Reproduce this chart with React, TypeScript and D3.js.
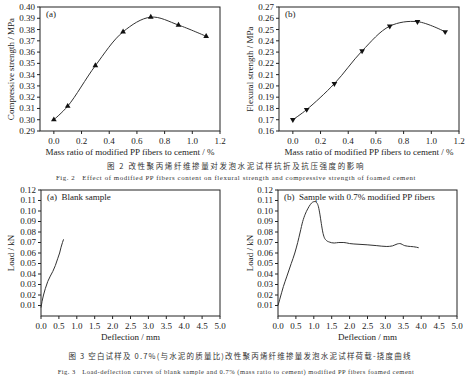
import React from "react";
import * as d3 from "d3";

const ratio = [0.0, 0.1, 0.3, 0.5, 0.7, 0.9, 1.1];
const compressive = [0.300, 0.312, 0.348, 0.378, 0.391, 0.384, 0.374];
const flexural = [0.170, 0.179, 0.202, 0.231, 0.253, 0.257, 0.248];
const ratioTicks = [0.0, 0.2, 0.4, 0.6, 0.8, 1.0, 1.2];
const compTicks = [0.29, 0.30, 0.31, 0.32, 0.33, 0.34, 0.35, 0.36, 0.37, 0.38, 0.39, 0.40];
const flexTicks = [0.16, 0.17, 0.18, 0.19, 0.20, 0.21, 0.22, 0.23, 0.24, 0.25, 0.26, 0.27];

const blankDef = [0.0, 0.03, 0.07, 0.12, 0.19, 0.26, 0.33, 0.40, 0.47, 0.52, 0.56, 0.60, 0.63];
const blankLoad = [0.008, 0.014, 0.020, 0.026, 0.033, 0.038, 0.0425, 0.048, 0.055, 0.060, 0.0655, 0.070, 0.073];
const fiberDef = [0.0, 0.05, 0.15, 0.25, 0.37, 0.47, 0.55, 0.62, 0.69, 0.76, 0.83, 0.9, 0.97, 1.03, 1.09, 1.13, 1.17, 1.21, 1.25, 1.29, 1.35, 1.43, 1.57, 1.7, 1.84, 2.0, 2.12, 2.49, 2.76, 3.04, 3.2, 3.33, 3.4, 3.54, 3.87, 3.93];
const fiberLoad = [0.010, 0.016, 0.028, 0.038, 0.050, 0.060, 0.070, 0.080, 0.090, 0.097, 0.102, 0.106, 0.1085, 0.109, 0.1075, 0.104, 0.097, 0.088, 0.080, 0.075, 0.072, 0.0705, 0.0695, 0.070, 0.070, 0.069, 0.0686, 0.0678, 0.067, 0.0662, 0.0668, 0.0686, 0.069, 0.067, 0.0655, 0.065];
const defTicks = [0.0, 0.5, 1.0, 1.5, 2.0, 2.5, 3.0, 3.5, 4.0, 4.5, 5.0];
const loadTicks = [0.01, 0.02, 0.03, 0.04, 0.05, 0.06, 0.07, 0.08, 0.09, 0.10, 0.11, 0.12];

const serif = "'Liberation Serif', 'DejaVu Serif', serif";
const cjk = "'Noto Sans CJK SC', sans-serif";

type PanelProps = {
  xDomain: [number, number];
  yDomain: [number, number];
  xRange: [number, number];
  yRange: [number, number];
  xTicks: number[];
  yTicks: number[];
  xFmt: (v: number) => string;
  yFmt: (v: number) => string;
  xs: number[];
  ys: number[];
  marker?: "up" | "down";
  label: string;
  xTitle: string;
  yTitle: string;
  yTitleX: number;
  curve: d3.CurveFactory;
};

function Panel(p: PanelProps) {
  const x = d3.scaleLinear().domain(p.xDomain).range(p.xRange);
  const y = d3.scaleLinear().domain(p.yDomain).range(p.yRange);
  const pts = p.xs.map((v, i) => [v, p.ys[i]] as [number, number]);
  const line = d3
    .line<[number, number]>()
    .x((d) => x(d[0]))
    .y((d) => y(d[1]))
    .curve(p.curve);
  const [x0, x1] = p.xRange;
  const [yb, yt] = p.yRange;
  const tri = d3.symbol().type(d3.symbolTriangle).size(14)();
  return (
    <g>
      <rect x={x0} y={yt} width={x1 - x0} height={yb - yt} fill="none" stroke="#222" strokeWidth={1} />
      {p.yTicks.map((t) => (
        <g key={"y" + t}>
          <line x1={x0} x2={x0 - 3} y1={y(t)} y2={y(t)} stroke="#222" />
          <text x={x0 - 5} y={y(t)} dy="0.33em" textAnchor="end" fontSize={9} fontFamily={serif} fill="#222">
            {p.yFmt(t)}
          </text>
        </g>
      ))}
      {p.xTicks.map((t) => (
        <g key={"x" + t}>
          <line x1={x(t)} x2={x(t)} y1={yb} y2={yb + 3} stroke="#222" />
          <text x={x(t)} y={yb + 13} textAnchor="middle" fontSize={9} fontFamily={serif} fill="#222">
            {p.xFmt(t)}
          </text>
        </g>
      ))}
      <path d={line(pts) || ""} fill="none" stroke="#333" strokeWidth={1} />
      {p.marker &&
        pts.map((d, i) => (
          <path
            key={"m" + i}
            d={tri || ""}
            transform={`translate(${x(d[0])},${y(d[1])})${p.marker === "down" ? " rotate(180)" : ""}`}
            fill="#111"
          />
        ))}
      <text x={x0 + 6} y={yt + 10} fontSize={9} fontFamily={serif} fill="#222" style={{ whiteSpace: "pre" }}>
        {p.label}
      </text>
      <text x={(x0 + x1) / 2} y={yb + 24} textAnchor="middle" fontSize={9} fontFamily={serif} fill="#222">
        {p.xTitle}
      </text>
      <text
        transform={`translate(${p.yTitleX},${(yt + yb) / 2}) rotate(-90)`}
        textAnchor="middle"
        fontSize={9}
        fontFamily={serif}
        fill="#222"
      >
        {p.yTitle}
      </text>
    </g>
  );
}

export default function App() {
  const f2 = (v: number) => v.toFixed(2);
  const f1 = (v: number) => v.toFixed(1);
  return (
    <svg
      width={471}
      height={378}
      style={{ position: "absolute", left: 0, top: 0, background: "#fff" }}
    >
      <Panel
        xDomain={[-0.1, 1.2]}
        yDomain={[0.29, 0.4]}
        xRange={[40, 220]}
        yRange={[131, 7]}
        xTicks={ratioTicks}
        yTicks={compTicks}
        xFmt={f1}
        yFmt={f2}
        xs={ratio}
        ys={compressive}
        marker="up"
        label="(a)"
        xTitle="Mass ratio of modified PP fibers to cement / %"
        yTitle="Compressive strength / MPa"
        yTitleX={14}
        curve={d3.curveCatmullRom}
      />
      <Panel
        xDomain={[-0.1, 1.2]}
        yDomain={[0.16, 0.27]}
        xRange={[279, 459]}
        yRange={[131, 7]}
        xTicks={ratioTicks}
        yTicks={flexTicks}
        xFmt={f1}
        yFmt={f2}
        xs={ratio}
        ys={flexural}
        marker="down"
        label="(b)"
        xTitle="Mass ratio of modified PP fibers to cement / %"
        yTitle="Flexural strength / MPa"
        yTitleX={253}
        curve={d3.curveCatmullRom}
      />
      <text x={236} y={169} textAnchor="middle" fontSize={7.5} fontFamily={cjk} fill="#333" letterSpacing={1.6}>
        {"图 2  改性聚丙烯纤维掺量对发泡水泥试样抗折及抗压强度的影响"}
      </text>
      <text x={236} y={180} textAnchor="middle" fontSize={6.8} fontFamily={serif} fill="#333" letterSpacing={0.6} style={{ whiteSpace: "pre" }}>
        {"Fig. 2   Effect of modified PP fibers content on flexural strength and compressive strength of foamed cement"}
      </text>

      <Panel
        xDomain={[0, 5]}
        yDomain={[0, 0.12]}
        xRange={[41, 220]}
        yRange={[316, 190]}
        xTicks={defTicks}
        yTicks={loadTicks}
        xFmt={f1}
        yFmt={f2}
        xs={blankDef}
        ys={blankLoad}
        label="(a)  Blank sample"
        xTitle="Deflection / mm"
        yTitle="Load / kN"
        yTitleX={14}
        curve={d3.curveLinear}
      />
      <Panel
        xDomain={[0, 5]}
        yDomain={[0, 0.12]}
        xRange={[278, 457]}
        yRange={[316, 190]}
        xTicks={defTicks}
        yTicks={loadTicks}
        xFmt={f1}
        yFmt={f2}
        xs={fiberDef}
        ys={fiberLoad}
        label="(b)  Sample with 0.7% modified PP fibers"
        xTitle="Deflection / mm"
        yTitle="Load / kN"
        yTitleX={253}
        curve={d3.curveMonotoneX}
      />
      <text x={240} y={359} textAnchor="middle" fontSize={7.5} fontFamily={cjk} fill="#333" letterSpacing={1.2}>
        {"图 3  空白试样及 0.7%(与水泥的质量比)改性聚丙烯纤维掺量发泡水泥试样荷载-挠度曲线"}
      </text>
      <text x={236} y={374} textAnchor="middle" fontSize={6.5} fontFamily={serif} fill="#333" letterSpacing={0.5} style={{ whiteSpace: "pre" }}>
        {"Fig. 3   Load-deflection curves of blank sample and 0.7% (mass ratio to cement) modified PP fibers foamed cement"}
      </text>
    </svg>
  );
}
